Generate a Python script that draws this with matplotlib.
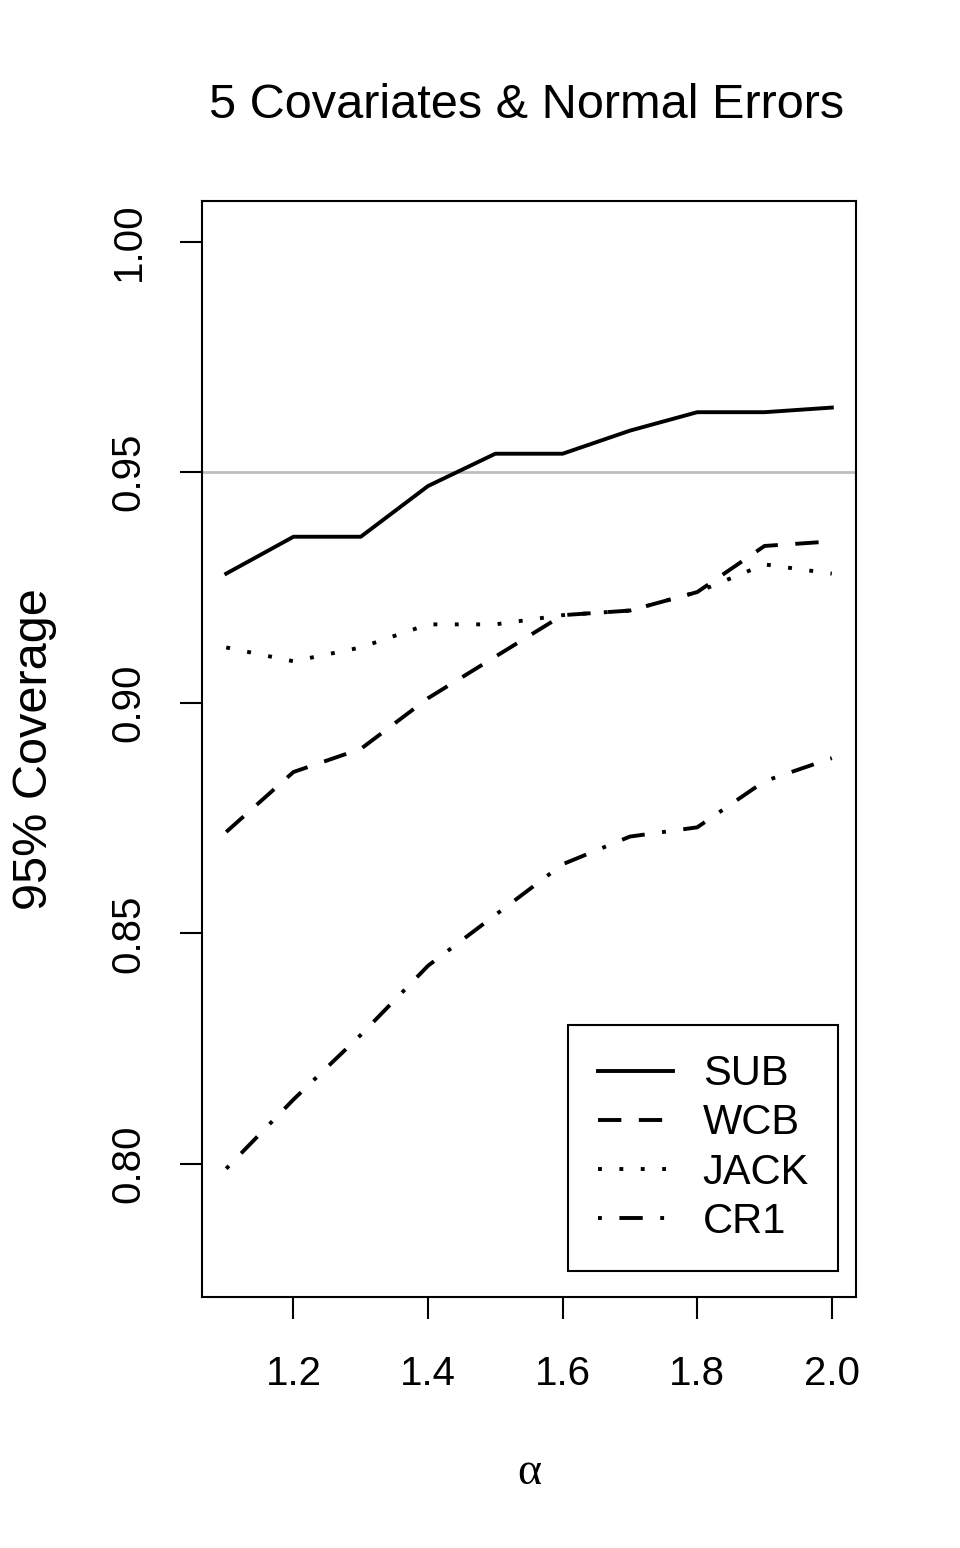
import numpy as np
import matplotlib
matplotlib.use("Agg")
import matplotlib.pyplot as plt

plt.rcParams['font.family'] = ['Liberation Sans', 'DejaVu Sans']

# ============================================================
# Data
# ============================================================
alpha = [1.1, 1.2, 1.3, 1.4, 1.5, 1.6, 1.7, 1.8, 1.9, 2.0]
sub = [0.928, 0.936, 0.936, 0.947, 0.954, 0.954, 0.959, 0.963, 0.963, 0.964]
wcb = [0.872, 0.885, 0.890, 0.901, 0.910, 0.919, 0.920, 0.924, 0.934, 0.935]
jack = [0.912, 0.909, 0.912, 0.917, 0.917, 0.919, 0.920, 0.924, 0.930, 0.928]
cr1 = [0.799, 0.814, 0.828, 0.843, 0.854, 0.865, 0.871, 0.873, 0.883, 0.888]
labels = ["SUB", "WCB", "JACK", "CR1"]
target = 0.95
xticks = [1.2, 1.4, 1.6, 1.8, 2.0]
yticks = [0.80, 0.85, 0.90, 0.95, 1.00]
# ============================================================

fig = plt.figure(figsize=(9.6, 15.48), dpi=100)
ax = fig.add_axes([0.2104, 0.1622, 0.6813, 0.7080])

lw = 2.8
ax.axhline(target, color='#bebebe', lw=2.0, zorder=1)
ax.plot(alpha, sub, color='black', lw=lw, linestyle='-', label=labels[0])
ax.plot(alpha, wcb, color='black', lw=lw, linestyle=(0, (6, 4.5)), label=labels[1])
ax.plot(alpha, jack, color='black', lw=lw, linestyle=(0, (1, 4.5)), label=labels[2])
ax.plot(alpha, cr1, color='black', lw=lw, linestyle=(0, (1, 4.5, 6, 4.5)), label=labels[3])

# R-style 4% axis expansion around xlim c(1.1, 2.0), ylim c(0.78, 1.0)
ax.set_xlim(1.1 - 0.036, 2.0 + 0.036)
ax.set_ylim(0.78 - 0.0088, 1.0 + 0.0088)

ax.set_xticks(xticks)
ax.set_xticklabels([f"{v:.1f}" for v in xticks])
ax.set_yticks(yticks)
ax.set_yticklabels([f"{v:.2f}" for v in yticks], rotation=90, va='center')
ax.tick_params(direction='out', length=16, width=1.5, labelsize=29, pad=26)
ax.tick_params(axis='y', pad=23)
for s in ax.spines.values():
    s.set_linewidth(1.5)

ax.set_xlabel("α", fontsize=33, labelpad=42, family=['Liberation Serif', 'DejaVu Serif'])
ax.set_ylabel("95% Coverage", fontsize=35, labelpad=38)
fig.text(0.549, 1 - 105 / 1548, "5 Covariates & Normal Errors", ha='center', va='center', fontsize=35)

leg = ax.legend(loc='lower right', bbox_to_anchor=(0.9725, 0.0237), borderaxespad=0,
                fontsize=30, handlelength=1.8, handletextpad=0.72, labelspacing=0.22,
                borderpad=0.7, fancybox=False, framealpha=1, edgecolor='black')
leg.get_frame().set_linewidth(1.5)

fig.savefig("out.png", dpi=100)
